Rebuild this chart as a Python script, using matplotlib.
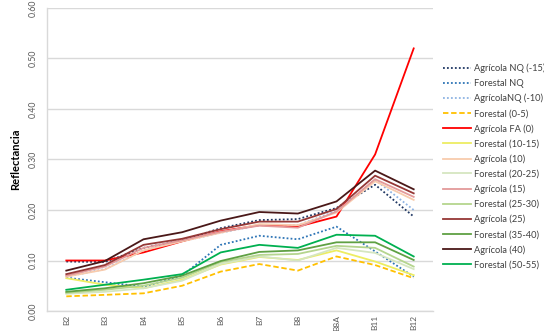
import matplotlib
matplotlib.use("Agg")
import matplotlib.pyplot as plt

plt.rcParams['font.family'] = ['Lato', 'DejaVu Sans']

bands = ["B2", "B3", "B4", "B5", "B6", "B7", "B8", "B8A", "B11", "B12"]

agricola_nq_15 = [0.098, 0.097, 0.125, 0.140, 0.164, 0.180, 0.182, 0.204, 0.250, 0.187]
forestal_nq = [0.066, 0.057, 0.048, 0.070, 0.131, 0.149, 0.142, 0.167, 0.118, 0.068]
agricola_nq_10 = [0.068, 0.083, 0.120, 0.138, 0.155, 0.170, 0.170, 0.198, 0.260, 0.200]
forestal_0_5 = [0.029, 0.032, 0.035, 0.050, 0.078, 0.093, 0.080, 0.108, 0.091, 0.065]
agricola_fa_0 = [0.100, 0.100, 0.116, 0.138, 0.158, 0.170, 0.167, 0.187, 0.310, 0.520]
forestal_10_15 = [0.065, 0.052, 0.045, 0.062, 0.092, 0.107, 0.101, 0.120, 0.098, 0.071]
agricola_10 = [0.068, 0.082, 0.120, 0.138, 0.155, 0.172, 0.170, 0.195, 0.257, 0.220]
forestal_20_25 = [0.034, 0.038, 0.045, 0.060, 0.093, 0.108, 0.100, 0.125, 0.115, 0.083]
agricola_15 = [0.070, 0.088, 0.125, 0.140, 0.157, 0.169, 0.165, 0.197, 0.261, 0.226]
forestal_25_30 = [0.036, 0.042, 0.050, 0.066, 0.097, 0.111, 0.113, 0.129, 0.125, 0.088]
agricola_25 = [0.073, 0.091, 0.131, 0.143, 0.162, 0.177, 0.177, 0.202, 0.268, 0.233]
forestal_35_40 = [0.038, 0.045, 0.055, 0.070, 0.099, 0.117, 0.120, 0.136, 0.136, 0.101]
agricola_40 = [0.080, 0.099, 0.142, 0.156, 0.179, 0.196, 0.193, 0.217, 0.278, 0.241]
forestal_50_55 = [0.042, 0.052, 0.062, 0.073, 0.116, 0.131, 0.125, 0.151, 0.149, 0.108]

series = [
    ("Agrícola NQ (-15)", agricola_nq_15, "#203864", ":"),
    ("Forestal NQ", forestal_nq, "#2E75B6", ":"),
    ("AgrícolaNQ (-10)", agricola_nq_10, "#8FB4E3", ":"),
    ("Forestal (0-5)", forestal_0_5, "#FFC000", "--"),
    ("Agrícola FA (0)", agricola_fa_0, "#FF0000", "-"),
    ("Forestal (10-15)", forestal_10_15, "#EDED62", "-"),
    ("Agrícola (10)", agricola_10, "#F8CBAD", "-"),
    ("Forestal (20-25)", forestal_20_25, "#D5E6C0", "-"),
    ("Agrícola (15)", agricola_15, "#E39A9A", "-"),
    ("Forestal (25-30)", forestal_25_30, "#B5D58E", "-"),
    ("Agrícola (25)", agricola_25, "#953735", "-"),
    ("Forestal (35-40)", forestal_35_40, "#5FA043", "-"),
    ("Agrícola (40)", agricola_40, "#4A1818", "-"),
    ("Forestal (50-55)", forestal_50_55, "#00B050", "-"),
]

fig = plt.figure(figsize=(5.44, 3.31), dpi=100)
ax = fig.add_axes([47/544, 1 - 311/331, (433-47)/544, (311-8)/331])

x = list(range(len(bands)))
for name, vals, col, ls in series:
    kw = {}
    if ls == ":":
        kw["dashes"] = (1, 1.2)
    elif ls == "--":
        kw["dashes"] = (3, 1.5)
    ax.plot(x, vals, color=col, linestyle="-", linewidth=1.3, label=name, **kw)

ax.set_xlim(-0.5, len(bands) - 0.5)
ax.set_ylim(0, 0.6)
yt = [0, 0.1, 0.2, 0.3, 0.4, 0.5, 0.6]
ax.set_yticks(yt)
ax.set_yticklabels([f"{v:.2f}" for v in yt], rotation=90, va="center",
                   fontsize=6.3, color="#595959")
ax.set_xticks(x)
ax.set_xticklabels(bands, rotation=90, fontsize=6.0, color="#595959")
ax.tick_params(axis="x", length=0, pad=3)
ax.tick_params(axis="y", length=0, pad=7)
ax.grid(axis="y", color="#D9D9D9", linewidth=1.0)
ax.set_axisbelow(True)
for s in ["top", "right"]:
    ax.spines[s].set_visible(False)
for s in ["left", "bottom"]:
    ax.spines[s].set_color("#D9D9D9")
    ax.spines[s].set_linewidth(1.0)

ax.set_ylabel("Reflectancia", fontsize=8, fontweight="bold", labelpad=5)

leg = ax.legend(loc="upper left", bbox_to_anchor=(1.025, 0.817), frameon=False,
                fontsize=6.7, handlelength=3.1, handletextpad=0.25,
                labelspacing=0.63, borderaxespad=0, borderpad=0)
for t in leg.get_texts():
    t.set_color("#404040")

fig.savefig("out.png", dpi=100)
